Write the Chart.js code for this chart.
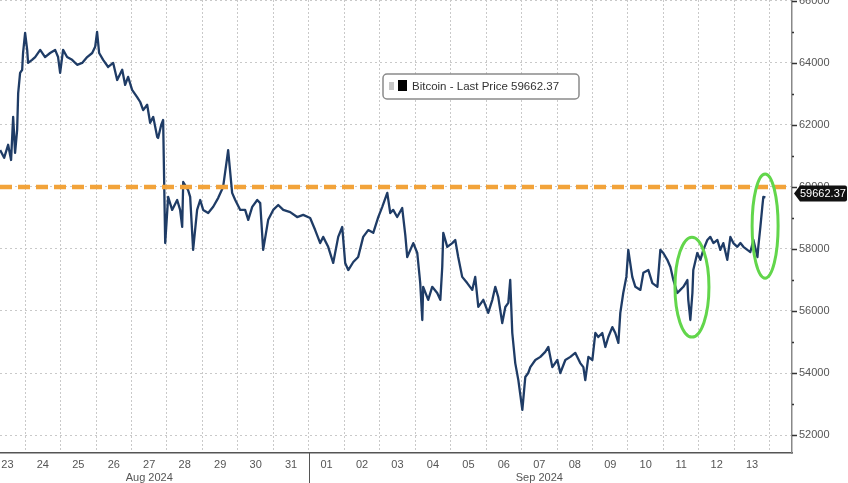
<!DOCTYPE html>
<html>
<head>
<meta charset="utf-8">
<script src="https://cdn.jsdelivr.net/npm/chart.js@4.4.1/dist/chart.umd.min.js"></script>
<style>
  html, body { margin: 0; padding: 0; background: #fff; }
  canvas { display: block; }
</style>
</head>
<body>
<canvas id="myChart" width="848" height="483"></canvas>
<script>
// day labels, Aug 23 .. Sep 13 2024
const days = ['23', '24', '25', '26', '27', '28', '29', '30', '31', '01', '02', '03', '04', '05', '06', '07', '08', '09', '10', '11', '12', '13'];
const months = { 4: 'Aug 2024', 15: 'Sep 2024' };
// hours since Aug 23 00:00
const hours = [7.1, 9.8, 12.5, 14.5, 15.9, 17.2, 18.6, 19.3, 20.6, 22.0, 22.6, 24.0, 25.4, 26.0, 28.7, 30.8, 34.2, 37.5, 40.9, 44.3,
  46.3, 47.7, 49.7, 52.4, 55.8, 59.2, 62.6, 66.0, 69.4, 71.4, 72.7, 74.1, 76.8, 80.2, 83.6, 86.3, 89.7, 91.7, 93.7, 96.4,
  99.8, 101.9, 103.9, 106.6, 108.6, 110.7, 113.4, 114.0, 116.1, 117.4, 118.8, 120.8, 123.5, 126.9, 128.9, 130.3, 131.0, 134.3, 135.7, 137.7,
  140.4, 142.5, 144.5, 147.9, 151.3, 154.7, 158.0, 160.8, 161.4, 164.1, 166.2, 169.6, 172.9, 175.0, 177.7, 181.1, 183.1, 185.1, 188.5, 191.9,
  195.3, 198.7, 203.4, 208.1, 212.2, 216.9, 220.3, 223.7, 225.7, 229.1, 232.5, 235.9, 238.6, 240.6, 242.7, 246.1, 249.4, 252.8, 256.2, 259.6,
  263.0, 265.7, 269.1, 271.1, 273.1, 275.8, 279.2, 281.3, 282.6, 286.7, 289.4, 291.4, 292.8, 293.4, 296.8, 299.5, 302.9, 305.0, 306.3, 307.0,
  309.7, 313.1, 315.1, 317.1, 319.8, 323.2, 326.6, 328.6, 330.7, 334.1, 337.4, 340.2, 342.2, 344.2, 346.9, 349.0, 351.0, 352.3, 353.7, 355.7,
  357.8, 360.5, 362.5, 364.5, 365.9, 369.3, 372.7, 376.0, 378.1, 380.8, 384.2, 386.2, 389.6, 393.0, 396.3, 399.7, 401.8, 403.1, 405.2, 407.9,
  409.9, 411.9, 414.6, 416.7, 418.7, 421.4, 423.4, 425.5, 426.8, 428.8, 430.9, 432.2, 434.9, 437.0, 440.4, 442.4, 445.8, 448.5, 451.9, 453.9,
  455.9, 458.6, 460.7, 462.7, 465.4, 467.4, 469.5, 472.2, 472.8, 474.2, 475.6, 476.2, 478.9, 481.0, 483.0, 485.7, 487.7, 489.8, 492.5, 494.5,
  496.5, 499.2, 501.3, 503.3, 506.0, 508.1, 510.1, 512.8, 514.8, 516.9, 519.6, 520.2, 521.6, 522.9, 523.6, 525.0];
const prices = [61190, 60940, 61360, 60870, 62260, 61100, 61840, 63030, 63680, 63780, 64320, 64970, 64420, 64000, 64100, 64190, 64420, 64190, 64320, 64420,
  64190, 63680, 64420, 64190, 64100, 63940, 64000, 64190, 64320, 64520, 65000, 64320, 64100, 63870, 64000, 63450, 63780, 63290, 63550, 63130,
  62900, 62740, 62480, 62650, 62070, 62260, 61610, 61580, 62000, 62160, 58190, 59680, 59260, 59580, 59260, 58710, 60160, 59900, 59680, 57970,
  59260, 59580, 59260, 59160, 59360, 59650, 60000, 60970, 61190, 59810, 59580, 59260, 59260, 58940, 59360, 59580, 59480, 57970, 58940, 59260,
  59420, 59260, 59190, 59030, 59100, 59000, 58610, 58190, 58390, 58070, 57550, 58390, 58710, 57550, 57320, 57580, 57740, 58390, 58610, 58520,
  59030, 59360, 59810, 59160, 59260, 59030, 59320, 58450, 57740, 58190, 57870, 56900, 55710, 56780, 56360, 56780, 56580, 56360, 57420, 58520,
  58070, 58190, 58290, 57740, 57100, 56900, 56680, 57100, 56130, 56360, 55940, 56360, 56780, 56450, 55610, 56130, 56260, 57000, 55290, 54320,
  53770, 52810, 53870, 54000, 54190, 54420, 54520, 54680, 54840, 54190, 54420, 54000, 54420, 54520, 54650, 54320, 54190, 53770, 54520, 54420,
  55290, 55160, 55290, 54840, 55160, 55480, 55290, 54970, 55940, 56580, 57100, 57970, 57100, 56780, 56680, 57230, 57320, 56900, 56780, 57970,
  57870, 57650, 57420, 57000, 56580, 56680, 56780, 57000, 56360, 55710, 56580, 57320, 57870, 57650, 57970, 58290, 58390, 58190, 58290, 57970,
  58190, 57650, 58390, 58190, 58070, 58190, 58070, 57970, 57900, 58290, 57740, 58070, 58710, 59360, 59680, 59662.37];
const yTicks = [52000, 54000, 56000, 58000, 60000, 62000, 64000, 66000];
const lastPrice = 59662.37;
const refLevel = 60000;
const seriesName = 'Bitcoin - Last Price';

// circled moves: centre time/price and half sizes
const circles = [
  { t: 475.3, p: 56770, dt: 11.5, dp: 1610 },
  { t: 524.8, p: 58740, dt: 8.8, dp: 1680 }
];

const xMin = 7, xMax = 543;
const FONT = '"Liberation Sans", Arial, sans-serif';

const extras = {
  id: 'extras',
  afterDatasetsDraw(chart) {
    const { ctx, scales: { x, y } } = chart;
    ctx.save();
    ctx.strokeStyle = '#62d64b';
    ctx.lineWidth = 3;
    circles.forEach(c => {
      const cx = x.getPixelForValue(c.t), cy = y.getPixelForValue(c.p);
      const rx = x.getPixelForValue(c.t + c.dt) - cx;
      const ry = cy - y.getPixelForValue(c.p + c.dp);
      ctx.beginPath();
      ctx.ellipse(cx, cy, rx, ry, 0, 0, Math.PI * 2);
      ctx.stroke();
    });
    ctx.restore();
  },
  afterDraw(chart) {
    const { ctx, chartArea: a, scales: { x, y } } = chart;
    ctx.save();
    // y axis tick marks (major + minor)
    ctx.strokeStyle = '#333';
    ctx.lineWidth = 1.5;
    for (let v = 52000; v <= 66000; v += 1000) {
      const py = Math.round(y.getPixelForValue(v)) + 0.5;
      const len = v % 2000 === 0 ? 5 : 2;
      ctx.beginPath();
      ctx.moveTo(a.right, py);
      ctx.lineTo(a.right + len, py);
      ctx.stroke();
    }
    // month separator
    const sx = Math.round(x.getPixelForValue(9 * 24)) + 0.5;
    ctx.strokeStyle = '#555';
    ctx.lineWidth = 1;
    ctx.beginPath();
    ctx.moveTo(sx, a.bottom);
    ctx.lineTo(sx, chart.height);
    ctx.stroke();

    // last price tag
    const ty = y.getPixelForValue(lastPrice) - 4;
    const tx = a.right + 2;
    ctx.fillStyle = '#111';
    ctx.beginPath();
    ctx.moveTo(tx, ty);
    ctx.lineTo(tx + 6, ty - 8);
    ctx.lineTo(chart.width - 3, ty - 8);
    ctx.quadraticCurveTo(chart.width - 1, ty - 8, chart.width - 1, ty - 6);
    ctx.lineTo(chart.width - 1, ty + 6);
    ctx.quadraticCurveTo(chart.width - 1, ty + 8, chart.width - 3, ty + 8);
    ctx.lineTo(tx + 6, ty + 8);
    ctx.closePath();
    ctx.fill();
    ctx.fillStyle = '#fff';
    ctx.font = '11px ' + FONT;
    ctx.textBaseline = 'middle';
    ctx.textAlign = 'left';
    ctx.fillText(lastPrice.toFixed(2), tx + 6, ty + 0.5);

    // legend box
    const lx = 383, ly = 74, lw = 196, lh = 25;
    ctx.fillStyle = '#fff';
    ctx.strokeStyle = '#8a8a8a';
    ctx.lineWidth = 1.5;
    ctx.beginPath();
    ctx.roundRect(lx, ly, lw, lh, 4);
    ctx.fill();
    ctx.stroke();
    ctx.fillStyle = '#c8c8c8';
    ctx.fillRect(lx + 6, ly + 8, 5, 8);
    ctx.fillStyle = '#000';
    ctx.fillRect(lx + 15, ly + 6, 9, 11);
    ctx.fillStyle = '#333';
    ctx.font = '11.5px ' + FONT;
    ctx.fillText(seriesName + ' ' + lastPrice.toFixed(2), lx + 29, ly + lh / 2);
    ctx.restore();
  }
};

const ctx = document.getElementById('myChart').getContext('2d');
const myChart = new Chart(ctx, {
  type: 'line',
  data: {
    datasets: [{
      label: 'ref',
      data: [{ x: xMin, y: refLevel }, { x: xMax, y: refLevel }],
      borderColor: '#f2a33a',
      borderWidth: 4.5,
      borderDash: [12, 6],
      pointRadius: 0,
      order: 0
    }, {
      label: seriesName,
      data: hours.map((h, i) => ({ x: h, y: prices[i] })),
      borderColor: '#1f3c66',
      borderWidth: 2.3,
      borderJoinStyle: 'round',
      pointRadius: 0,
      tension: 0,
      order: 1
    }]
  },
  options: {
    responsive: false,
    animation: false,
    layout: { padding: 0 },
    plugins: { legend: { display: false }, tooltip: { enabled: false } },
    scales: {
      x: {
        type: 'linear',
        min: xMin,
        max: xMax,
        afterBuildTicks: s => {
          const t = [];
          for (let i = 0; i < days.length; i++) {
            if (i > 0) t.push({ value: i * 24 });
            t.push({ value: i * 24 + 12 });
          }
          t.push({ value: days.length * 24 });
          s.ticks = t;
        },
        afterFit: s => { s.height = 30; s.paddingLeft = 0; s.paddingRight = 0; },
        grid: {
          color: c => (c.tick && c.tick.value % 24 === 0) ? '#c9c9c9' : 'rgba(0,0,0,0)',
          lineWidth: 1,
          drawTicks: false
        },
        border: { display: true, color: '#555', width: 1.5, dash: [2, 2] },
        ticks: {
          autoSkip: false,
          maxRotation: 0,
          padding: 5,
          color: '#555',
          font: { family: FONT, size: 11 },
          callback: v => {
            if (v % 24 !== 12) return '';
            const i = (v - 12) / 24;
            return months[i] ? [days[i], months[i]] : days[i];
          }
        }
      },
      y: {
        position: 'right',
        min: 51420,
        max: 66030,
        afterBuildTicks: s => { s.ticks = yTicks.map(v => ({ value: v })); },
        afterFit: s => { s.width = 56; s.paddingTop = 0; s.paddingBottom = 0; },
        grid: { color: '#c9c9c9', lineWidth: 1, drawTicks: false },
        border: { display: true, color: '#888', width: 1.5, dash: [2, 3] },
        ticks: {
          padding: 7,
          color: '#555',
          font: { family: FONT, size: 11 },
          callback: v => String(v)
        }
      }
    }
  },
  plugins: [extras]
});
</script>
</body>
</html>
